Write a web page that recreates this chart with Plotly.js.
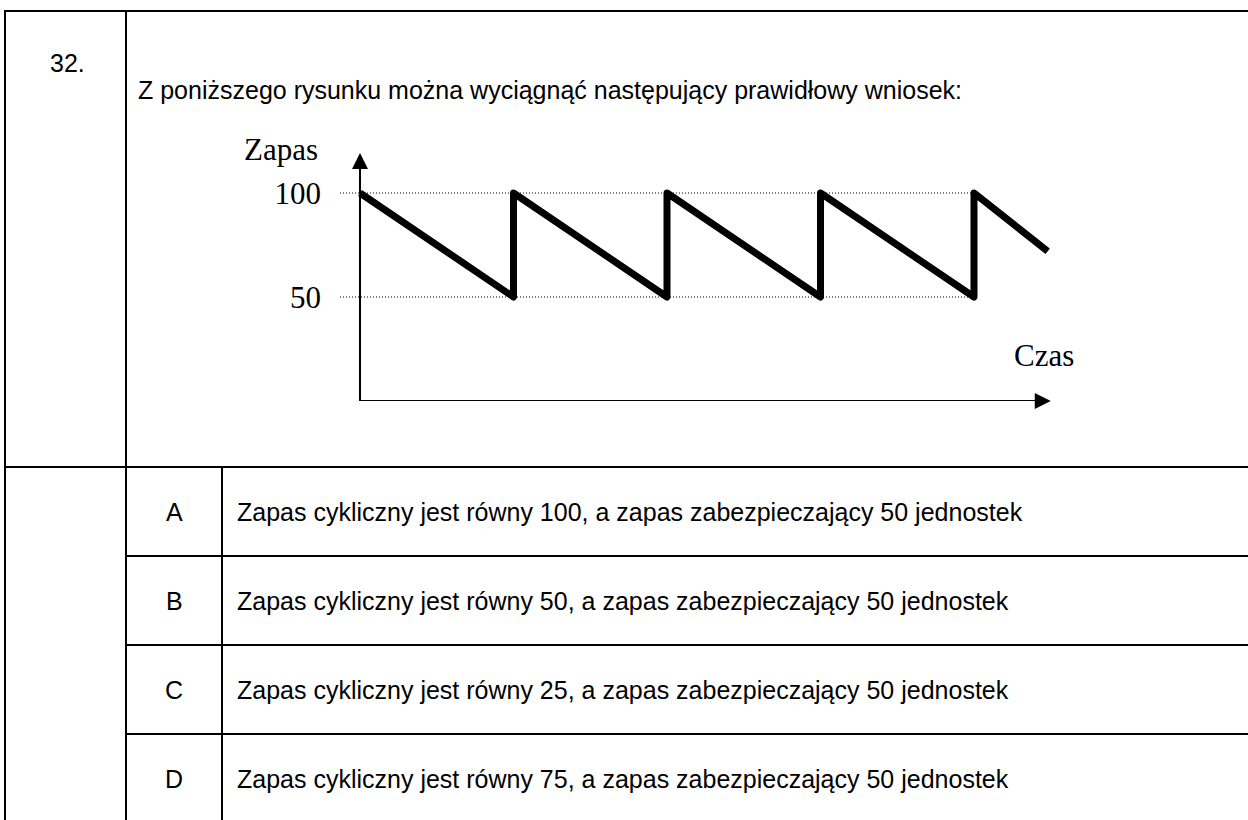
<!DOCTYPE html>
<html>
<head>
<meta charset="utf-8">
<script src="https://cdn.plot.ly/plotly-3.0.1.min.js"></script>
<style>
html,body{margin:0;padding:0;background:#fff;}
#chart{width:1248px;height:820px;}
.scatterlayer .js-line{stroke-linejoin:round;}
</style>
</head>
<body>
<div id="chart"></div>
<script>
// ---- data ----
const timeValues  = [0, 1, 1, 2, 2, 3, 3, 4, 4, 4.48];
const stockValues = [100, 50, 100, 50, 100, 50, 100, 50, 100, 72];
const levelTicks  = [50, 100];
const levelLabels = ['50', '100'];
const gridEndTime = 4;
const yAxisLabel  = 'Zapas';
const xAxisLabel  = 'Czas';
const questionNo  = '32.';
const questionText = 'Z poniższego rysunku można wyciągnąć następujący prawidłowy wniosek:';
const optionLetters = ['A', 'B', 'C', 'D'];
const optionTexts = [
  'Zapas cykliczny jest równy 100, a zapas zabezpieczający 50 jednostek',
  'Zapas cykliczny jest równy 50, a zapas zabezpieczający 50 jednostek',
  'Zapas cykliczny jest równy 25, a zapas zabezpieczający 50 jednostek',
  'Zapas cykliczny jest równy 75, a zapas zabezpieczający 50 jednostek'
];

// ---- layout helpers (pixel -> paper) ----
const W = 1248, H = 820;
const px = x => x / W;
const py = y => 1 - y / H;

const xRange = [-20 / 153.5, 696 / 153.5];
const yRange = [0, 251 / 2.08];
const xTip = 4.50, yTip = 119.2;

const traces = [];
levelTicks.forEach(v => {
  traces.push({
    x: [xRange[0], gridEndTime], y: [v, v], mode: 'lines', hoverinfo: 'skip',
    line: {color: '#000', width: 1, dash: '1px,2px'}
  });
});
traces.push({
  x: timeValues, y: stockValues, mode: 'lines', hoverinfo: 'skip',
  line: {color: '#000', width: 7}
});

const sans = 'Liberation Sans, Arial, sans-serif';
const serif = 'Liberation Serif, Times New Roman, serif';
const black = '#000';
const sansSize = 25;

const shapes = [];
function hline(x0, x1, y) {
  shapes.push({type: 'line', xref: 'paper', yref: 'paper', x0: px(x0), x1: px(x1), y0: py(y), y1: py(y), line: {color: black, width: 2}});
}
function vline(x, y0, y1) {
  shapes.push({type: 'line', xref: 'paper', yref: 'paper', x0: px(x), x1: px(x), y0: py(y0), y1: py(y1), line: {color: black, width: 2}});
}
hline(4, 1248, 11);
vline(5, 10, 820);
vline(126, 10, 820);
hline(4, 1248, 467);
vline(222, 467, 820);
const rowTops = [467, 556, 645, 734];
rowTops.slice(1).forEach(y => hline(126, 1248, y));

// axis lines in data coordinates
shapes.push({type: 'line', xref: 'x', yref: 'y', x0: 0, x1: 0, y0: 0, y1: yTip - 5, line: {color: black, width: 2}});
shapes.push({type: 'line', xref: 'x', yref: 'y', x0: 0, x1: xTip - 0.05, y0: 0, y1: 0, line: {color: black, width: 2}});

const annotations = [];
// arrow heads
annotations.push({xref: 'x', yref: 'y', axref: 'x', ayref: 'y', x: 0, y: yTip, ax: 0, ay: yTip - 12, text: '', showarrow: true, arrowhead: 2, arrowsize: 1.6, arrowwidth: 2, arrowcolor: black});
annotations.push({xref: 'x', yref: 'y', axref: 'x', ayref: 'y', x: xTip, y: 0, ax: xTip - 0.1, ay: 0, text: '', showarrow: true, arrowhead: 2, arrowsize: 1.6, arrowwidth: 2, arrowcolor: black});

annotations.push({xref: 'paper', yref: 'paper', x: px(320), y: py(150), xanchor: 'right', yanchor: 'middle', text: yAxisLabel, showarrow: false, font: {family: serif, size: 31, color: black}});
annotations.push({xref: 'paper', yref: 'paper', x: px(1012), y: py(356), xanchor: 'left', yanchor: 'middle', text: xAxisLabel, showarrow: false, font: {family: serif, size: 31, color: black}});

annotations.push({xref: 'paper', yref: 'paper', x: px(48), y: py(63), xanchor: 'left', yanchor: 'middle', text: questionNo, showarrow: false, font: {family: sans, size: sansSize, color: black}});
annotations.push({xref: 'paper', yref: 'paper', x: px(136), y: py(90), xanchor: 'left', yanchor: 'middle', text: questionText, showarrow: false, font: {family: sans, size: sansSize, color: black}});

optionLetters.forEach((L, i) => {
  const yc = (rowTops[i] + (rowTops[i + 1] || 823)) / 2;
  annotations.push({xref: 'paper', yref: 'paper', x: px(174), y: py(yc), xanchor: 'center', yanchor: 'middle', text: L, showarrow: false, font: {family: sans, size: sansSize, color: black}});
  annotations.push({xref: 'paper', yref: 'paper', x: px(235), y: py(yc), xanchor: 'left', yanchor: 'middle', text: optionTexts[i], showarrow: false, font: {family: sans, size: sansSize, color: black}});
});

const layout = {
  width: W, height: H,
  margin: {l: 0, r: 0, t: 0, b: 0, pad: 0},
  paper_bgcolor: '#fff', plot_bgcolor: 'rgba(0,0,0,0)',
  showlegend: false,
  xaxis: {domain: [px(340), px(1056)], range: xRange, showgrid: false, zeroline: false, showline: false, showticklabels: false, ticks: '', fixedrange: true},
  yaxis: {domain: [py(401), py(150)], range: yRange, showgrid: false, zeroline: false, showline: false,
          tickvals: levelTicks, ticktext: levelLabels, ticks: '', ticklabelstandoff: 18,
          tickfont: {family: serif, size: 31, color: black}, fixedrange: true},
  shapes: shapes,
  annotations: annotations
};

Plotly.newPlot('chart', traces, layout, {displayModeBar: false, staticPlot: true});
</script>
</body>
</html>
